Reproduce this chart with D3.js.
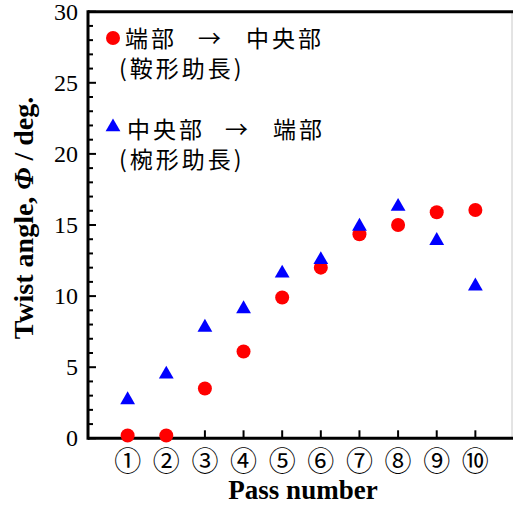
<!DOCTYPE html>
<html>
<head>
<meta charset="utf-8">
<script src="https://cdn.jsdelivr.net/npm/d3@7"></script>
<style>
	body { margin: 0; background: #fff; }
	svg { display: block; }
</style>
</head>
<body>
<div id="chart"></div>
<script>

// data
var passes = [1, 2, 3, 4, 5, 6, 7, 8, 9, 10];
var passlabels = ["①", "②", "③", "④", "⑤", "⑥", "⑦", "⑧", "⑨", "⑩"];
var edgeToCenter = [0.2, 0.2, 3.5, 6.1, 9.9, 12.0, 14.35, 15.0, 15.9, 16.05];	// red circles
var centerToEdge = [2.7, 4.5, 7.8, 9.1, 11.6, 12.55, 14.9, 16.3, 13.9, 10.7];	// blue triangles
var yticks = [0, 5, 10, 15, 20, 25, 30];

var W = 513, H = 508;
var mleft = 88, mtop = 11.7, mbottom = 438.3;

var svg = d3.select("#chart").append("svg")
	.attr("width", W)
	.attr("height", H);

var x = d3.scaleLinear().domain([0, 11]).range([89, 514]);
var y = d3.scaleLinear().domain([0, 30]).range([mbottom, mtop]);

var serif = "'Liberation Serif', 'Times New Roman', serif";
var gothic = "'Noto Sans CJK JP', 'Noto Sans', sans-serif";

// right border (clipped in original)
svg.append("line")
	.attr("x1", 512).attr("x2", 512)
	.attr("y1", mtop).attr("y2", mbottom)
	.attr("stroke", "#c8c8c8").attr("stroke-width", 1);

// y axis, ticks inside
var minor = d3.range(0, 31);
svg.append("g").selectAll("line")
	.data(minor)
	.join("line")
		.attr("x1", mleft)
		.attr("x2", d => mleft + (d % 5 === 0 ? 8 : 5))
		.attr("y1", d => y(d)).attr("y2", d => y(d))
		.attr("stroke", "#000").attr("stroke-width", 2);

svg.append("g").selectAll("text")
	.data(yticks)
	.join("text")
		.attr("x", 78)
		.attr("y", d => y(d))
		.attr("dy", "0.34em")
		.attr("text-anchor", "end")
		.attr("font-family", serif)
		.attr("font-size", 24)
		.text(d => d);

// x ticks, pointing up
svg.append("g").selectAll("line")
	.data(passes)
	.join("line")
		.attr("x1", d => x(d)).attr("x2", d => x(d))
		.attr("y1", mbottom).attr("y2", mbottom - 8)
		.attr("stroke", "#000").attr("stroke-width", 2);

svg.append("g").selectAll("text")
	.data(passes)
	.join("text")
		.attr("x", d => x(d))
		.attr("y", 461)
		.attr("dy", "0.36em")
		.attr("text-anchor", "middle")
		.attr("font-family", gothic)
		.attr("font-size", 27)
		.text((d, i) => passlabels[i]);

// frame lines
svg.append("line")
	.attr("x1", mleft).attr("x2", W)
	.attr("y1", mtop).attr("y2", mtop)
	.attr("stroke", "#000").attr("stroke-width", 3);
svg.append("line")
	.attr("x1", mleft).attr("x2", W)
	.attr("y1", mbottom).attr("y2", mbottom)
	.attr("stroke", "#000").attr("stroke-width", 3);
svg.append("line")
	.attr("x1", mleft).attr("x2", mleft)
	.attr("y1", mtop - 1.5).attr("y2", mbottom + 1.5)
	.attr("stroke", "#000").attr("stroke-width", 3);

// axis titles
svg.append("text")
	.attr("x", 303).attr("y", 499)
	.attr("text-anchor", "middle")
	.attr("font-family", serif)
	.attr("font-weight", "bold")
	.attr("font-size", 27)
	.text("Pass number");

var yt = svg.append("text")
	.attr("transform", "translate(33,218) rotate(-90)")
	.attr("text-anchor", "middle")
	.attr("font-family", serif)
	.attr("font-weight", "bold")
	.attr("font-size", 28);
yt.append("tspan").text("Twist angle, ");
yt.append("tspan").attr("font-style", "italic").text("Φ");
yt.append("tspan").text(" / deg.");

// markers
svg.append("g").selectAll("circle")
	.data(passes)
	.join("circle")
		.attr("cx", d => x(d))
		.attr("cy", (d, i) => y(edgeToCenter[i]))
		.attr("r", 7)
		.attr("fill", "#ff0000");

var tri = d3.symbol().type(d3.symbolTriangle).size(95);
svg.append("g").selectAll("path")
	.data(passes)
	.join("path")
		.attr("transform", (d, i) => `translate(${x(d)},${y(centerToEdge[i])})`)
		.attr("d", tri)
		.attr("fill", "#0000ff");

// legend: one text per entry, lines as tspans
var lg = svg.append("g")
	.attr("font-family", gothic)
	.attr("font-size", 23)
	.attr("letter-spacing", 3);

lg.append("circle").attr("cx", 113).attr("cy", 38).attr("r", 7).attr("fill", "#ff0000");
var t1 = lg.append("text");
t1.append("tspan").attr("x", 125).attr("y", 47).text("端部");
t1.append("tspan").attr("x", 198).attr("y", 47).text("→");
t1.append("tspan").attr("x", 246).attr("y", 47).text("中央部");
t1.append("tspan").attr("x", 119).attr("y", 77).text("(鞍形助長)");

lg.append("path").attr("transform", "translate(113,127)").attr("d", tri).attr("fill", "#0000ff");
var t2 = lg.append("text");
t2.append("tspan").attr("x", 127).attr("y", 138).text("中央部");
t2.append("tspan").attr("x", 225).attr("y", 138).text("→");
t2.append("tspan").attr("x", 273).attr("y", 138).text("端部");
t2.append("tspan").attr("x", 119).attr("y", 168).text("(椀形助長)");

</script>
</body>
</html>
